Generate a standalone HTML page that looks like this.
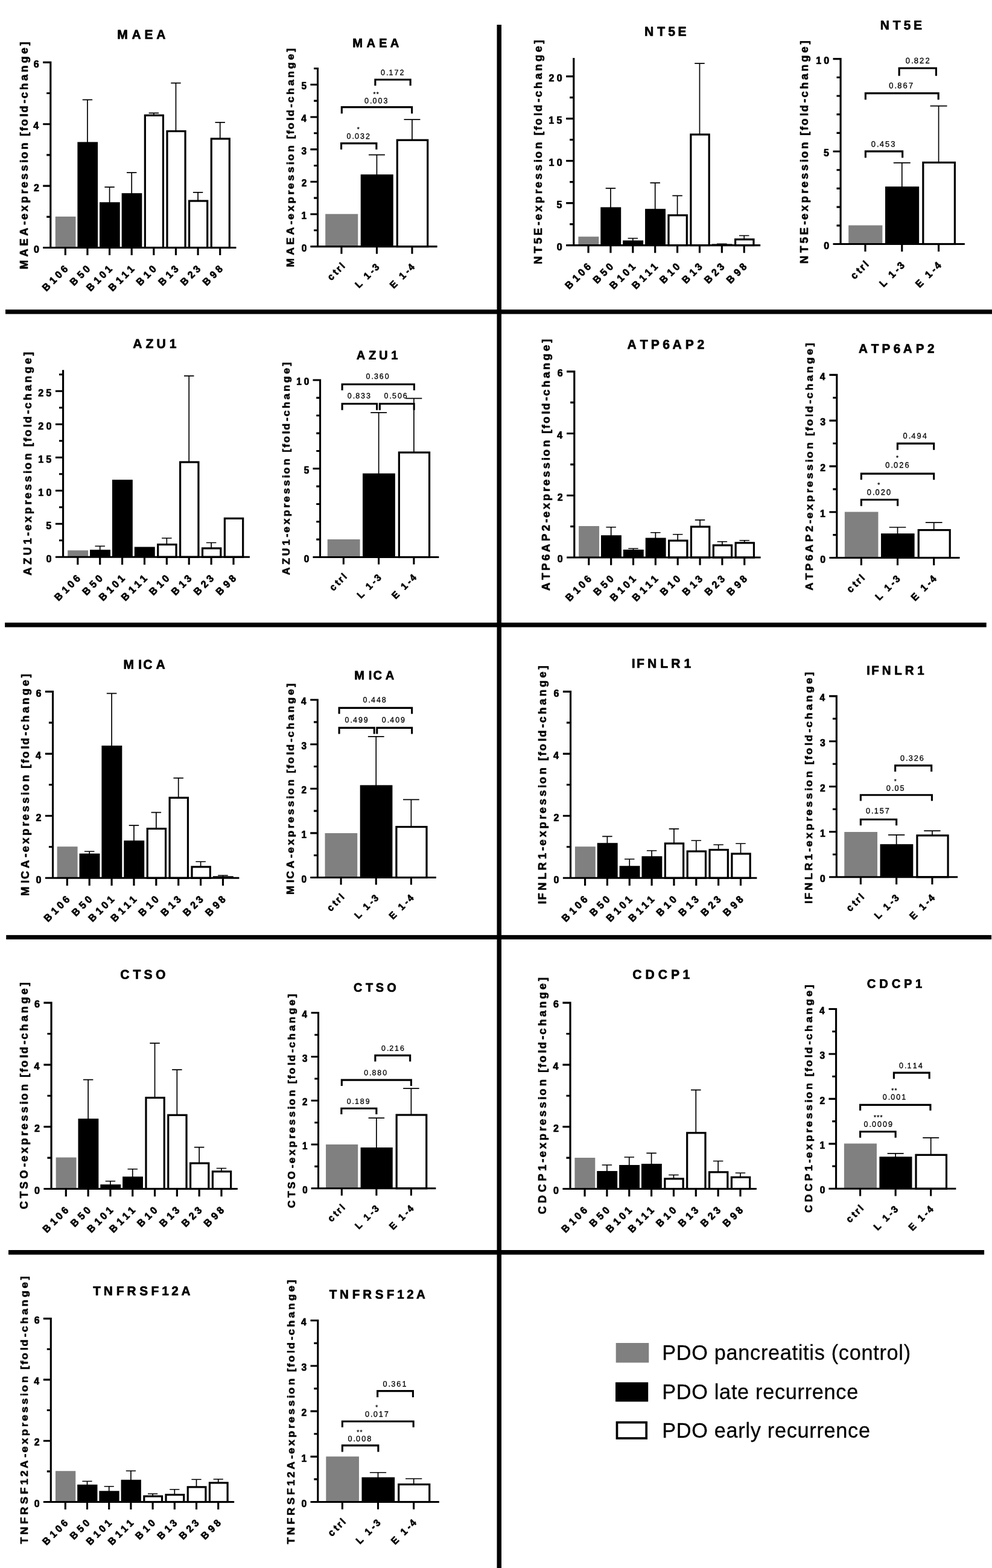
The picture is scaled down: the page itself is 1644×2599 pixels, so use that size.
<!DOCTYPE html>
<html lang="en">
<head>
<meta charset="utf-8">
<title>PDO expression fold-change</title>
<style>
html,body{margin:0;padding:0;background:#fff;}
body{width:1644px;height:2599px;overflow:hidden;}
svg{display:block;}
text{font-family:"Liberation Sans",Arial,Helvetica,sans-serif;fill:#000;stroke:#000;stroke-linejoin:round;font-kerning:none;}
.b{font-weight:700;stroke-width:0.7;}
.r{font-weight:400;stroke-width:0.3;}
</style>
</head>
<body>
<svg width="1644" height="2599" viewBox="0 0 1644 2599">
<rect width="1644" height="2599" fill="#fff"/>
<g fill="#000">
<rect x="823.5" y="41" width="7.5" height="2558"/>
<rect x="9" y="513.1" width="1635" height="7.4"/>
<rect x="8.1" y="1032" width="1626.6" height="7.6"/>
<rect x="10.2" y="1549.9" width="1632.9" height="7.2"/>
<rect x="14" y="2072" width="1617.1" height="7.6"/>
</g>
<g>
<rect x="91.76" y="358.97" width="33.68" height="51.53" fill="#808080"/>
<path d="M144.94 236.39V165.35M136.74 165.35H153.13" stroke="#000" stroke-width="1.7" fill="none"/>
<rect x="128.39" y="235.39" width="33.68" height="175.11" fill="#000"/>
<path d="M181.57 336.21V310.19M173.37 310.19H189.76" stroke="#000" stroke-width="1.7" fill="none"/>
<rect x="165.03" y="335.21" width="33.68" height="75.3" fill="#000"/>
<path d="M218.2 321.2V286.17M210 286.17H226.39" stroke="#000" stroke-width="1.7" fill="none"/>
<rect x="201.66" y="320.2" width="33.68" height="90.31" fill="#000"/>
<path d="M254.83 190.61V187.36M246.63 187.36H263.03" stroke="#000" stroke-width="1.7" fill="none"/>
<rect x="240.34" y="191.21" width="30.08" height="219.29" fill="#fff" stroke="#000" stroke-width="3.2"/>
<path d="M291.46 216.88V137.58M283.26 137.58H299.66" stroke="#000" stroke-width="1.7" fill="none"/>
<rect x="276.97" y="217.48" width="30.08" height="193.03" fill="#fff" stroke="#000" stroke-width="3.2"/>
<path d="M328.09 332.45V318.95M319.9 318.95H336.29" stroke="#000" stroke-width="1.7" fill="none"/>
<rect x="313.6" y="333.05" width="30.08" height="77.45" fill="#fff" stroke="#000" stroke-width="3.2"/>
<path d="M364.72 229.39V202.87M356.53 202.87H372.92" stroke="#000" stroke-width="1.7" fill="none"/>
<rect x="350.23" y="229.99" width="30.08" height="180.52" fill="#fff" stroke="#000" stroke-width="3.2"/>
<path d="M83.79 101.73V412.08M71.21 410.51H391.46M71.21 308.11H83.79M71.21 205.71H83.79M71.21 103.3H83.79M77.21 359.31H83.79M77.21 256.91H83.79M77.21 154.5H83.79M108.3 410.51V423.08M144.94 410.51V423.08M181.57 410.51V423.08M218.2 410.51V423.08M254.83 410.51V423.08M291.46 410.51V423.08M328.09 410.51V423.08M364.72 410.51V423.08" stroke="#000" stroke-width="3.15" fill="none"/>
<text class="b" font-size="16" transform="translate(64.51 418.91) matrix(1 .0005 0 1.05 0 0)" x="-8.59" dx="0">0</text>
<text class="b" font-size="16" transform="translate(64.51 316.51) matrix(1 .0005 0 1.05 0 0)" x="-8.61" dx="0">2</text>
<text class="b" font-size="16" transform="translate(64.51 214.11) matrix(1 .0005 0 1.05 0 0)" x="-9.16" dx="0">4</text>
<text class="b" font-size="16" transform="translate(64.51 111.7) matrix(1 .0005 0 1.05 0 0)" x="-8.67" dx="0">6</text>
<text class="b" font-size="16" transform="translate(116.55 443.96) rotate(-45) matrix(1 0 0 1.05 0 0)" x="-56.37" dx="0 5.47 4.22 4.22">B106</text>
<text class="b" font-size="16" transform="translate(153.19 443.96) rotate(-45) matrix(1 0 0 1.05 0 0)" x="-43.26" dx="0 5.47 4.22">B50</text>
<text class="b" font-size="16" transform="translate(189.82 443.96) rotate(-45) matrix(1 0 0 1.05 0 0)" x="-56.37" dx="0 5.47 4.22 4.22">B101</text>
<text class="b" font-size="16" transform="translate(226.45 443.96) rotate(-45) matrix(1 0 0 1.05 0 0)" x="-56.37" dx="0 5.47 4.22 4.22">B111</text>
<text class="b" font-size="16" transform="translate(263.08 443.96) rotate(-45) matrix(1 0 0 1.05 0 0)" x="-43.26" dx="0 5.47 4.22">B10</text>
<text class="b" font-size="16" transform="translate(299.71 443.96) rotate(-45) matrix(1 0 0 1.05 0 0)" x="-43.26" dx="0 5.47 4.22">B13</text>
<text class="b" font-size="16" transform="translate(336.34 443.96) rotate(-45) matrix(1 0 0 1.05 0 0)" x="-43.26" dx="0 5.47 4.22">B23</text>
<text class="b" font-size="16" transform="translate(372.97 443.96) rotate(-45) matrix(1 0 0 1.05 0 0)" x="-43.26" dx="0 5.47 4.22">B98</text>
<text class="b" font-size="21" transform="translate(234.64 64.43) matrix(1 .0005 0 1.02 0 0)" x="-40.53" dx="0 6.89 5.97 5.51">MAEA</text>
<text class="b" font-size="18.3" transform="translate(45.96 257.66) rotate(-90) matrix(1 0 0 0.96 0 0)" x="-188.67" dx="0 5.59 4.85 4.48 4.85 2.24 3.73 3.73 4.1 2.61 3.73 3.73 3.73 1.86 4.1 4.1 1.86 2.24 2.24 4.1 1.86 4.1 2.24 3.73 4.1 3.73 4.1 4.1 3.73">MAEA-expression [fold-change]</text>
</g>
<g>
<rect x="539.21" y="354.71" width="54.04" height="53.89" fill="#808080"/>
<path d="M624.45 290.16V256.64M610.99 256.64H637.91" stroke="#000" stroke-width="1.7" fill="none"/>
<rect x="597.72" y="289.16" width="54.04" height="119.43" fill="#000"/>
<path d="M682.96 231.63V198.1M669.5 198.1H696.42" stroke="#000" stroke-width="1.7" fill="none"/>
<rect x="658.29" y="232.23" width="50.44" height="176.37" fill="#fff" stroke="#000" stroke-width="3.2"/>
<path d="M526.51 111.9V410.14M514.38 408.59H724.62M514.38 354.93H526.51M514.38 301.27H526.51M514.38 247.6H526.51M514.38 193.94H526.51M514.38 140.28H526.51M520.15 381.76H526.51M520.15 328.1H526.51M520.15 274.44H526.51M520.15 220.77H526.51M520.15 167.11H526.51M520.15 113.45H526.51M565.93 408.59V420.71M624.45 408.59V420.71M682.96 408.59V420.71" stroke="#000" stroke-width="3.09" fill="none"/>
<text class="b" font-size="15.39" transform="translate(507.94 416.67) matrix(1 .0005 0 1.05 0 0)" x="-8.28" dx="0">0</text>
<text class="b" font-size="15.39" transform="translate(507.94 363.01) matrix(1 .0005 0 1.05 0 0)" x="-8.48" dx="0">1</text>
<text class="b" font-size="15.39" transform="translate(507.94 309.34) matrix(1 .0005 0 1.05 0 0)" x="-8.29" dx="0">2</text>
<text class="b" font-size="15.39" transform="translate(507.94 255.68) matrix(1 .0005 0 1.05 0 0)" x="-8.35" dx="0">3</text>
<text class="b" font-size="15.39" transform="translate(507.94 202.02) matrix(1 .0005 0 1.05 0 0)" x="-8.82" dx="0">4</text>
<text class="b" font-size="15.39" transform="translate(507.94 148.36) matrix(1 .0005 0 1.05 0 0)" x="-8.48" dx="0">5</text>
<text class="b" font-size="15.39" transform="translate(573.87 440.76) rotate(-45) matrix(1 0 0 1.05 0 0)" x="-35.28" dx="0 4.05 2.43 2.84">ctrl</text>
<text class="b" font-size="15.39" transform="translate(632.38 440.76) rotate(-45) matrix(1 0 0 1.05 0 0)" x="-52.92" dx="0 4.45 2.03 4.05 2.43">L 1-3</text>
<text class="b" font-size="15.39" transform="translate(690.89 440.76) rotate(-45) matrix(1 0 0 1.05 0 0)" x="-54.19" dx="0 4.86 2.03 4.05 2.43">E 1-4</text>
<text class="b" font-size="20.19" transform="translate(623.12 78.18) matrix(1 .0005 0 1.02 0 0)" x="-38.97" dx="0 6.62 5.74 5.3">MAEA</text>
<text class="b" font-size="17.6" transform="translate(487.05 261.4) rotate(-90) matrix(1 0 0 0.96 0 0)" x="-181.42" dx="0 5.38 4.66 4.3 4.66 2.15 3.59 3.59 3.94 2.51 3.59 3.59 3.59 1.79 3.94 3.94 1.79 2.15 2.15 3.94 1.79 3.94 2.15 3.59 3.94 3.59 3.94 3.94 3.59">MAEA-expression [fold-change]</text>
<path d="M565.58 247.74V237.63H623.87V247.74" stroke="#000" stroke-width="3.1" fill="none"/>
<text class="r" font-size="12.5" transform="translate(593.6 230.12) matrix(1 .0005 0 1.03 0 0)" x="-19.1" dx="0 2.02 1.01 2.02 2.02">0.032</text>
<text class="r" font-size="10.1" transform="translate(593.6 217.61) matrix(1 .0005 0 1 0 0)" x="-1.97" dx="0">*</text>
<path d="M566.33 188.2V177.59H682.66V188.2" stroke="#000" stroke-width="3.1" fill="none"/>
<text class="r" font-size="12.5" transform="translate(623.12 171.34) matrix(1 .0005 0 1.03 0 0)" x="-19.14" dx="0 2.02 1.01 2.02 2.02">0.003</text>
<text class="r" font-size="10.1" transform="translate(623.12 159.33) matrix(1 .0005 0 1 0 0)" x="-4.58" dx="0 1.3">**</text>
<path d="M621.87 141.92V132.06H680.16V141.92" stroke="#000" stroke-width="3.1" fill="none"/>
<text class="r" font-size="12.5" transform="translate(650.14 124.56) matrix(1 .0005 0 1.03 0 0)" x="-19.1" dx="0 2.02 1.01 2.02 2.02">0.172</text>
</g>
<g>
<rect x="958.41" y="392.24" width="33.91" height="14.31" fill="#808080"/>
<path d="M1011.95 344.46V312.19M1003.7 312.19H1020.2" stroke="#000" stroke-width="1.7" fill="none"/>
<rect x="995.29" y="343.46" width="33.91" height="63.09" fill="#000"/>
<path d="M1048.83 399.5V395M1040.58 395H1057.08" stroke="#000" stroke-width="1.7" fill="none"/>
<rect x="1032.18" y="398.5" width="33.91" height="8.06" fill="#000"/>
<path d="M1085.71 347.21V303.19M1077.46 303.19H1093.96" stroke="#000" stroke-width="1.7" fill="none"/>
<rect x="1069.06" y="346.21" width="33.91" height="60.34" fill="#000"/>
<path d="M1122.59 356.22V324.45M1114.34 324.45H1130.85" stroke="#000" stroke-width="1.7" fill="none"/>
<rect x="1107.99" y="356.82" width="30.31" height="49.73" fill="#fff" stroke="#000" stroke-width="3.2"/>
<path d="M1159.48 222.38V105.06M1151.22 105.06H1167.73" stroke="#000" stroke-width="1.7" fill="none"/>
<rect x="1144.87" y="222.98" width="30.31" height="183.57" fill="#fff" stroke="#000" stroke-width="3.2"/>
<path d="M1196.36 405.38V404.25M1188.11 404.25H1204.61" stroke="#000" stroke-width="1.7" fill="none"/>
<rect x="1179.7" y="404.38" width="33.91" height="2.18" fill="#000"/>
<path d="M1233.24 396.25V390.49M1224.99 390.49H1241.49" stroke="#000" stroke-width="1.7" fill="none"/>
<rect x="1218.63" y="396.85" width="30.31" height="9.71" fill="#fff" stroke="#000" stroke-width="3.2"/>
<path d="M950.8 96.12V408.13M938.16 406.55H1260.16M938.16 336.55H950.8M938.16 266.55H950.8M938.16 196.55H950.8M938.16 126.55H950.8M944.19 371.55H950.8M944.19 301.55H950.8M944.19 231.55H950.8M944.19 161.55H950.8M975.07 406.55V419.2M1011.95 406.55V419.2M1048.83 406.55V419.2M1085.71 406.55V419.2M1122.59 406.55V419.2M1159.48 406.55V419.2M1196.36 406.55V419.2M1233.24 406.55V419.2" stroke="#000" stroke-width="3.16" fill="none"/>
<text class="b" font-size="16.1" transform="translate(931.41 415.01) matrix(1 .0005 0 1.05 0 0)" x="-8.64" dx="0">0</text>
<text class="b" font-size="16.1" transform="translate(931.41 345.01) matrix(1 .0005 0 1.05 0 0)" x="-8.85" dx="0">5</text>
<text class="b" font-size="16.1" transform="translate(931.41 275.01) matrix(1 .0005 0 1.05 0 0)" x="-21.84" dx="0 4.24">10</text>
<text class="b" font-size="16.1" transform="translate(931.41 205.01) matrix(1 .0005 0 1.05 0 0)" x="-22.05" dx="0 4.24">15</text>
<text class="b" font-size="16.1" transform="translate(931.41 135.01) matrix(1 .0005 0 1.05 0 0)" x="-21.84" dx="0 4.24">20</text>
<text class="b" font-size="16.1" transform="translate(983.37 440.21) rotate(-45) matrix(1 0 0 1.05 0 0)" x="-56.72" dx="0 5.51 4.24 4.24">B106</text>
<text class="b" font-size="16.1" transform="translate(1020.25 440.21) rotate(-45) matrix(1 0 0 1.05 0 0)" x="-43.52" dx="0 5.51 4.24">B50</text>
<text class="b" font-size="16.1" transform="translate(1057.13 440.21) rotate(-45) matrix(1 0 0 1.05 0 0)" x="-56.72" dx="0 5.51 4.24 4.24">B101</text>
<text class="b" font-size="16.1" transform="translate(1094.01 440.21) rotate(-45) matrix(1 0 0 1.05 0 0)" x="-56.72" dx="0 5.51 4.24 4.24">B111</text>
<text class="b" font-size="16.1" transform="translate(1130.89 440.21) rotate(-45) matrix(1 0 0 1.05 0 0)" x="-43.52" dx="0 5.51 4.24">B10</text>
<text class="b" font-size="16.1" transform="translate(1167.78 440.21) rotate(-45) matrix(1 0 0 1.05 0 0)" x="-43.52" dx="0 5.51 4.24">B13</text>
<text class="b" font-size="16.1" transform="translate(1204.66 440.21) rotate(-45) matrix(1 0 0 1.05 0 0)" x="-43.52" dx="0 5.51 4.24">B23</text>
<text class="b" font-size="16.1" transform="translate(1241.54 440.21) rotate(-45) matrix(1 0 0 1.05 0 0)" x="-43.52" dx="0 5.51 4.24">B98</text>
<text class="b" font-size="21.13" transform="translate(1103.15 59.43) matrix(1 .0005 0 1.02 0 0)" x="-35.15" dx="0 6.01 5.08 4.63">NT5E</text>
<text class="b" font-size="18.41" transform="translate(898.49 252.03) rotate(-90) matrix(1 0 0 0.96 0 0)" x="-186.07" dx="0 4.99 4.22 3.84 4.61 2.3 3.84 3.84 4.22 2.69 3.84 3.84 3.84 1.92 4.22 4.22 1.92 2.3 2.3 4.22 1.92 4.22 2.3 3.84 4.22 3.84 4.22 4.22 3.84">NT5E-expression [fold-change]</text>
</g>
<g>
<rect x="1406.21" y="373.49" width="56.15" height="31.02" fill="#808080"/>
<path d="M1494.78 310.2V269.92M1480.79 269.92H1508.76" stroke="#000" stroke-width="1.7" fill="none"/>
<rect x="1467" y="309.2" width="56.15" height="95.31" fill="#000"/>
<path d="M1555.57 268.79V175.61M1541.58 175.61H1569.55" stroke="#000" stroke-width="1.7" fill="none"/>
<rect x="1529.84" y="269.39" width="52.55" height="135.11" fill="#fff" stroke="#000" stroke-width="3.2"/>
<path d="M1393.09 95.98V406.08M1380.52 404.51H1598.85M1380.52 251.03H1393.09M1380.52 97.56H1393.09M1386.51 373.81H1393.09M1386.51 343.12H1393.09M1386.51 312.42H1393.09M1386.51 281.73H1393.09M1386.51 220.34H1393.09M1386.51 189.64H1393.09M1386.51 158.95H1393.09M1386.51 128.25H1393.09M1433.99 404.51V417.08M1494.78 404.51V417.08M1555.57 404.51V417.08" stroke="#000" stroke-width="3.15" fill="none"/>
<text class="b" font-size="15.99" transform="translate(1373.82 412.9) matrix(1 .0005 0 1.05 0 0)" x="-8.59" dx="0">0</text>
<text class="b" font-size="15.99" transform="translate(1373.82 259.43) matrix(1 .0005 0 1.05 0 0)" x="-8.8" dx="0">5</text>
<text class="b" font-size="15.99" transform="translate(1373.82 105.95) matrix(1 .0005 0 1.05 0 0)" x="-21.7" dx="0 4.21">10</text>
<text class="b" font-size="15.99" transform="translate(1442.23 437.94) rotate(-45) matrix(1 0 0 1.05 0 0)" x="-36.68" dx="0 4.21 2.52 2.95">ctrl</text>
<text class="b" font-size="15.99" transform="translate(1503.02 437.94) rotate(-45) matrix(1 0 0 1.05 0 0)" x="-55.01" dx="0 4.63 2.1 4.21 2.52">L 1-3</text>
<text class="b" font-size="15.99" transform="translate(1563.81 437.94) rotate(-45) matrix(1 0 0 1.05 0 0)" x="-56.33" dx="0 5.05 2.1 4.21 2.52">E 1-4</text>
<text class="b" font-size="20.99" transform="translate(1493.65 48.93) matrix(1 .0005 0 1.02 0 0)" x="-34.92" dx="0 5.97 5.05 4.6">NT5E</text>
<text class="b" font-size="18.29" transform="translate(1338.99 252.03) rotate(-90) matrix(1 0 0 0.96 0 0)" x="-184.85" dx="0 4.96 4.19 3.82 4.58 2.29 3.82 3.82 4.19 2.67 3.82 3.82 3.82 1.91 4.19 4.19 1.91 2.29 2.29 4.19 1.91 4.19 2.29 3.82 4.19 3.82 4.19 4.19 3.82">NT5E-expression [fold-change]</text>
<path d="M1434.36 261.51V250.91H1495.65V261.51" stroke="#000" stroke-width="3.1" fill="none"/>
<text class="r" font-size="12.99" transform="translate(1463.63 243.15) matrix(1 .0005 0 1.03 0 0)" x="-19.89" dx="0 2.1 1.05 2.1 2.1">0.453</text>
<path d="M1434.36 165.2V154.59H1555.19V165.2" stroke="#000" stroke-width="3.1" fill="none"/>
<text class="r" font-size="12.99" transform="translate(1493.15 146.34) matrix(1 .0005 0 1.03 0 0)" x="-19.85" dx="0 2.1 1.05 2.1 2.1">0.867</text>
<path d="M1490.15 125.68V113.07H1551.44V125.68" stroke="#000" stroke-width="3.1" fill="none"/>
<text class="r" font-size="12.99" transform="translate(1520.67 105.06) matrix(1 .0005 0 1.03 0 0)" x="-19.85" dx="0 2.1 1.05 2.1 2.1">0.822</text>
</g>
<g>
<rect x="112.16" y="912.25" width="33.91" height="11.01" fill="#808080"/>
<path d="M165.7 912.25V905.25M157.45 905.25H173.95" stroke="#000" stroke-width="1.7" fill="none"/>
<rect x="149.04" y="911.25" width="33.91" height="12.01" fill="#000"/>
<rect x="185.92" y="795.17" width="33.91" height="128.08" fill="#000"/>
<rect x="222.81" y="906.5" width="33.91" height="16.76" fill="#000"/>
<path d="M276.34 901.99V891.99M268.09 891.99H284.6" stroke="#000" stroke-width="1.7" fill="none"/>
<rect x="261.74" y="902.59" width="30.31" height="20.66" fill="#fff" stroke="#000" stroke-width="3.2"/>
<path d="M313.22 765.4V623.06M304.97 623.06H321.48" stroke="#000" stroke-width="1.7" fill="none"/>
<rect x="298.62" y="766" width="30.31" height="157.25" fill="#fff" stroke="#000" stroke-width="3.2"/>
<path d="M350.11 908.25V899.49M341.85 899.49H358.36" stroke="#000" stroke-width="1.7" fill="none"/>
<rect x="335.5" y="908.85" width="30.31" height="14.41" fill="#fff" stroke="#000" stroke-width="3.2"/>
<rect x="372.38" y="859.32" width="30.31" height="63.94" fill="#fff" stroke="#000" stroke-width="3.2"/>
<path d="M104.55 613.28V924.84M91.91 923.26H413.91M91.91 868.26H104.55M91.91 813.26H104.55M91.91 758.26H104.55M91.91 703.26H104.55M91.91 648.26H104.55M97.95 895.76H104.55M97.95 840.76H104.55M97.95 785.76H104.55M97.95 730.76H104.55M97.95 675.76H104.55M97.95 620.76H104.55M128.82 923.26V935.9M165.7 923.26V935.9M202.58 923.26V935.9M239.46 923.26V935.9M276.34 923.26V935.9M313.22 923.26V935.9M350.11 923.26V935.9M386.99 923.26V935.9" stroke="#000" stroke-width="3.16" fill="none"/>
<text class="b" font-size="16.09" transform="translate(85.18 931.7) matrix(1 .0005 0 1.05 0 0)" x="-8.64" dx="0">0</text>
<text class="b" font-size="16.09" transform="translate(85.18 876.7) matrix(1 .0005 0 1.05 0 0)" x="-8.85" dx="0">5</text>
<text class="b" font-size="16.09" transform="translate(85.18 821.7) matrix(1 .0005 0 1.05 0 0)" x="-21.82" dx="0 4.24">10</text>
<text class="b" font-size="16.09" transform="translate(85.18 766.7) matrix(1 .0005 0 1.05 0 0)" x="-22.03" dx="0 4.24">15</text>
<text class="b" font-size="16.09" transform="translate(85.18 711.7) matrix(1 .0005 0 1.05 0 0)" x="-21.82" dx="0 4.24">20</text>
<text class="b" font-size="16.09" transform="translate(85.18 656.7) matrix(1 .0005 0 1.05 0 0)" x="-22.03" dx="0 4.24">25</text>
<text class="b" font-size="16.09" transform="translate(137.11 956.89) rotate(-45) matrix(1 0 0 1.05 0 0)" x="-56.67" dx="0 5.5 4.24 4.24">B106</text>
<text class="b" font-size="16.09" transform="translate(173.99 956.89) rotate(-45) matrix(1 0 0 1.05 0 0)" x="-43.49" dx="0 5.5 4.24">B50</text>
<text class="b" font-size="16.09" transform="translate(210.88 956.89) rotate(-45) matrix(1 0 0 1.05 0 0)" x="-56.67" dx="0 5.5 4.24 4.24">B101</text>
<text class="b" font-size="16.09" transform="translate(247.76 956.89) rotate(-45) matrix(1 0 0 1.05 0 0)" x="-56.67" dx="0 5.5 4.24 4.24">B111</text>
<text class="b" font-size="16.09" transform="translate(284.64 956.89) rotate(-45) matrix(1 0 0 1.05 0 0)" x="-43.49" dx="0 5.5 4.24">B10</text>
<text class="b" font-size="16.09" transform="translate(321.52 956.89) rotate(-45) matrix(1 0 0 1.05 0 0)" x="-43.49" dx="0 5.5 4.24">B13</text>
<text class="b" font-size="16.09" transform="translate(358.4 956.89) rotate(-45) matrix(1 0 0 1.05 0 0)" x="-43.49" dx="0 5.5 4.24">B23</text>
<text class="b" font-size="16.09" transform="translate(395.28 956.89) rotate(-45) matrix(1 0 0 1.05 0 0)" x="-43.49" dx="0 5.5 4.24">B98</text>
<text class="b" font-size="21.11" transform="translate(256.4 576.93) matrix(1 .0005 0 1.02 0 0)" x="-36.08" dx="0 6 5.08 6">AZU1</text>
<text class="b" font-size="18.4" transform="translate(52.24 768.91) rotate(-90) matrix(1 0 0 0.96 0 0)" x="-184.87" dx="0 4.85 4.1 4.85 3.73 2.24 3.73 3.73 4.1 2.61 3.73 3.73 3.73 1.87 4.1 4.1 1.87 2.24 2.24 4.1 1.87 4.1 2.24 3.73 4.1 3.73 4.1 4.1 3.73">AZU1-expression [fold-change]</text>
</g>
<g>
<rect x="542.72" y="893.99" width="53.84" height="29.52" fill="#808080"/>
<path d="M627.62 785.67V683.85M614.21 683.85H641.03" stroke="#000" stroke-width="1.7" fill="none"/>
<rect x="601.01" y="784.67" width="53.84" height="138.84" fill="#000"/>
<path d="M685.91 749.39V660.34M672.5 660.34H699.32" stroke="#000" stroke-width="1.7" fill="none"/>
<rect x="661.34" y="749.99" width="50.24" height="173.51" fill="#fff" stroke="#000" stroke-width="3.2"/>
<path d="M530.56 628.52V925.05M518.49 923.51H727.41M518.49 776.79H530.56M518.49 630.07H530.56M524.23 894.16H530.56M524.23 864.82H530.56M524.23 835.48H530.56M524.23 806.13H530.56M524.23 747.44H530.56M524.23 718.1H530.56M524.23 688.75H530.56M524.23 659.41H530.56M569.33 923.51V935.58M627.62 923.51V935.58M685.91 923.51V935.58" stroke="#000" stroke-width="3.08" fill="none"/>
<text class="b" font-size="15.31" transform="translate(512.08 931.55) matrix(1 .0005 0 1.05 0 0)" x="-8.24" dx="0">0</text>
<text class="b" font-size="15.31" transform="translate(512.08 784.83) matrix(1 .0005 0 1.05 0 0)" x="-8.44" dx="0">5</text>
<text class="b" font-size="15.31" transform="translate(512.08 638.1) matrix(1 .0005 0 1.05 0 0)" x="-20.79" dx="0 4.03">10</text>
<text class="b" font-size="15.31" transform="translate(577.23 955.52) rotate(-45) matrix(1 0 0 1.05 0 0)" x="-35.11" dx="0 4.03 2.42 2.82">ctrl</text>
<text class="b" font-size="15.31" transform="translate(635.52 955.52) rotate(-45) matrix(1 0 0 1.05 0 0)" x="-52.67" dx="0 4.43 2.02 4.03 2.42">L 1-3</text>
<text class="b" font-size="15.31" transform="translate(693.81 955.52) rotate(-45) matrix(1 0 0 1.05 0 0)" x="-53.93" dx="0 4.84 2.02 4.03 2.42">E 1-4</text>
<text class="b" font-size="20.1" transform="translate(625.12 595.69) matrix(1 .0005 0 1.02 0 0)" x="-34.34" dx="0 5.71 4.83 5.71">AZU1</text>
<text class="b" font-size="17.51" transform="translate(479.52 777.04) rotate(-90) matrix(1 0 0 0.96 0 0)" x="-175.97" dx="0 4.62 3.9 4.62 3.55 2.13 3.55 3.55 3.9 2.49 3.55 3.55 3.55 1.78 3.9 3.9 1.78 2.13 2.13 3.9 1.78 3.9 2.13 3.55 3.9 3.55 3.9 3.9 3.55">AZU1-expression [fold-change]</text>
<path d="M567.08 646.93V637.07H686.41V646.93" stroke="#000" stroke-width="3.1" fill="none"/>
<text class="r" font-size="12.44" transform="translate(625.62 628.06) matrix(1 .0005 0 1.03 0 0)" x="-19.08" dx="0 2.01 1 2.01 2.01">0.360</text>
<path d="M567.08 679.7V669.22H624.62V679.7" stroke="#000" stroke-width="3.1" fill="none"/>
<text class="r" font-size="12.44" transform="translate(594.85 660.21) matrix(1 .0005 0 1.03 0 0)" x="-19.05" dx="0 2.01 1 2.01 2.01">0.833</text>
<path d="M629.37 679.7V669.22H686.16V679.7" stroke="#000" stroke-width="3.1" fill="none"/>
<text class="r" font-size="12.44" transform="translate(655.64 660.21) matrix(1 .0005 0 1.03 0 0)" x="-19.05" dx="0 2.01 1 2.01 2.01">0.506</text>
</g>
<g>
<rect x="959.18" y="871.97" width="33.88" height="52.03" fill="#808080"/>
<path d="M1012.67 888.23V873.73M1004.42 873.73H1020.91" stroke="#000" stroke-width="1.7" fill="none"/>
<rect x="996.03" y="887.23" width="33.88" height="36.77" fill="#000"/>
<path d="M1049.51 912V909.25M1041.27 909.25H1057.75" stroke="#000" stroke-width="1.7" fill="none"/>
<rect x="1032.87" y="911" width="33.88" height="13.01" fill="#000"/>
<path d="M1086.36 892.49V882.73M1078.11 882.73H1094.6" stroke="#000" stroke-width="1.7" fill="none"/>
<rect x="1069.72" y="891.49" width="33.88" height="32.52" fill="#000"/>
<path d="M1123.2 895.49V885.73M1114.96 885.73H1131.45" stroke="#000" stroke-width="1.7" fill="none"/>
<rect x="1108.61" y="896.09" width="30.28" height="27.92" fill="#fff" stroke="#000" stroke-width="3.2"/>
<path d="M1160.05 872.47V861.97M1151.8 861.97H1168.29" stroke="#000" stroke-width="1.7" fill="none"/>
<rect x="1145.46" y="873.07" width="30.28" height="50.93" fill="#fff" stroke="#000" stroke-width="3.2"/>
<path d="M1196.89 903.24V897.74M1188.65 897.74H1205.14" stroke="#000" stroke-width="1.7" fill="none"/>
<rect x="1182.3" y="903.84" width="30.28" height="20.16" fill="#fff" stroke="#000" stroke-width="3.2"/>
<path d="M1233.74 899.24V895.74M1225.49 895.74H1241.98" stroke="#000" stroke-width="1.7" fill="none"/>
<rect x="1219.15" y="899.84" width="30.28" height="24.17" fill="#fff" stroke="#000" stroke-width="3.2"/>
<path d="M951.8 614.23V925.59M939.17 924.01H1260.64M939.17 821.27H951.8M939.17 718.54H951.8M939.17 615.81H951.8M945.2 872.64H951.8M945.2 769.91H951.8M945.2 667.17H951.8M975.82 924.01V936.64M1012.67 924.01V936.64M1049.51 924.01V936.64M1086.36 924.01V936.64M1123.2 924.01V936.64M1160.05 924.01V936.64M1196.89 924.01V936.64M1233.74 924.01V936.64" stroke="#000" stroke-width="3.16" fill="none"/>
<text class="b" font-size="16.07" transform="translate(932.44 932.45) matrix(1 .0005 0 1.05 0 0)" x="-8.63" dx="0">0</text>
<text class="b" font-size="16.07" transform="translate(932.44 829.71) matrix(1 .0005 0 1.05 0 0)" x="-8.65" dx="0">2</text>
<text class="b" font-size="16.07" transform="translate(932.44 726.98) matrix(1 .0005 0 1.05 0 0)" x="-9.2" dx="0">4</text>
<text class="b" font-size="16.07" transform="translate(932.44 624.24) matrix(1 .0005 0 1.05 0 0)" x="-8.71" dx="0">6</text>
<text class="b" font-size="16.07" transform="translate(984.11 957.61) rotate(-45) matrix(1 0 0 1.05 0 0)" x="-56.63" dx="0 5.5 4.23 4.23">B106</text>
<text class="b" font-size="16.07" transform="translate(1020.95 957.61) rotate(-45) matrix(1 0 0 1.05 0 0)" x="-43.45" dx="0 5.5 4.23">B50</text>
<text class="b" font-size="16.07" transform="translate(1057.8 957.61) rotate(-45) matrix(1 0 0 1.05 0 0)" x="-56.63" dx="0 5.5 4.23 4.23">B101</text>
<text class="b" font-size="16.07" transform="translate(1094.64 957.61) rotate(-45) matrix(1 0 0 1.05 0 0)" x="-56.63" dx="0 5.5 4.23 4.23">B111</text>
<text class="b" font-size="16.07" transform="translate(1131.49 957.61) rotate(-45) matrix(1 0 0 1.05 0 0)" x="-43.45" dx="0 5.5 4.23">B10</text>
<text class="b" font-size="16.07" transform="translate(1168.34 957.61) rotate(-45) matrix(1 0 0 1.05 0 0)" x="-43.45" dx="0 5.5 4.23">B13</text>
<text class="b" font-size="16.07" transform="translate(1205.18 957.61) rotate(-45) matrix(1 0 0 1.05 0 0)" x="-43.45" dx="0 5.5 4.23">B23</text>
<text class="b" font-size="16.07" transform="translate(1242.03 957.61) rotate(-45) matrix(1 0 0 1.05 0 0)" x="-43.45" dx="0 5.5 4.23">B98</text>
<text class="b" font-size="21.1" transform="translate(1103.15 578.18) matrix(1 .0005 0 1.02 0 0)" x="-63.7" dx="0 6 5.07 5.54 4.62 6 5.54">ATP6AP2</text>
<text class="b" font-size="18.38" transform="translate(911 770.78) rotate(-90) matrix(1 0 0 0.96 0 0)" x="-208.27" dx="0 4.83 4.09 4.46 3.72 4.83 4.46 3.72 2.23 3.72 3.72 4.09 2.6 3.72 3.72 3.72 1.86 4.09 4.09 1.86 2.23 2.23 4.09 1.86 4.09 2.23 3.72 4.09 3.72 4.09 4.09 3.72">ATP6AP2-expression [fold-change]</text>
</g>
<g>
<rect x="1399.87" y="848.46" width="55.57" height="76.05" fill="#808080"/>
<path d="M1487.52 885.23V873.98M1473.68 873.98H1501.36" stroke="#000" stroke-width="1.7" fill="none"/>
<rect x="1460.04" y="884.23" width="55.57" height="40.28" fill="#000"/>
<path d="M1547.69 877.98V866.22M1533.85 866.22H1561.53" stroke="#000" stroke-width="1.7" fill="none"/>
<rect x="1522.25" y="878.58" width="51.97" height="45.93" fill="#fff" stroke="#000" stroke-width="3.2"/>
<path d="M1386.83 619.74V926.07M1374.39 924.51H1590.52M1374.39 848.71H1386.83M1374.39 772.91H1386.83M1374.39 697.11H1386.83M1374.39 621.31H1386.83M1380.32 886.61H1386.83M1380.32 810.81H1386.83M1380.32 735.01H1386.83M1380.32 659.21H1386.83M1427.36 924.51V936.95M1487.52 924.51V936.95M1547.69 924.51V936.95" stroke="#000" stroke-width="3.13" fill="none"/>
<text class="b" font-size="15.81" transform="translate(1367.77 932.81) matrix(1 .0005 0 1.05 0 0)" x="-8.5" dx="0">0</text>
<text class="b" font-size="15.81" transform="translate(1367.77 857.01) matrix(1 .0005 0 1.05 0 0)" x="-8.7" dx="0">1</text>
<text class="b" font-size="15.81" transform="translate(1367.77 781.21) matrix(1 .0005 0 1.05 0 0)" x="-8.51" dx="0">2</text>
<text class="b" font-size="15.81" transform="translate(1367.77 705.41) matrix(1 .0005 0 1.05 0 0)" x="-8.57" dx="0">3</text>
<text class="b" font-size="15.81" transform="translate(1367.77 629.61) matrix(1 .0005 0 1.05 0 0)" x="-9.06" dx="0">4</text>
<text class="b" font-size="15.81" transform="translate(1435.51 957.57) rotate(-45) matrix(1 0 0 1.05 0 0)" x="-36.26" dx="0 4.17 2.49 2.92">ctrl</text>
<text class="b" font-size="15.81" transform="translate(1495.68 957.57) rotate(-45) matrix(1 0 0 1.05 0 0)" x="-54.39" dx="0 4.58 2.08 4.17 2.49">L 1-3</text>
<text class="b" font-size="15.81" transform="translate(1555.84 957.57) rotate(-45) matrix(1 0 0 1.05 0 0)" x="-55.7" dx="0 5 2.08 4.17 2.49">E 1-4</text>
<text class="b" font-size="20.75" transform="translate(1485.65 584.94) matrix(1 .0005 0 1.02 0 0)" x="-62.67" dx="0 5.9 4.99 5.45 4.54 5.9 5.45">ATP6AP2</text>
<text class="b" font-size="18.09" transform="translate(1347.2 773.91) rotate(-90) matrix(1 0 0 0.96 0 0)" x="-204.88" dx="0 4.75 4.02 4.39 3.66 4.75 4.39 3.66 2.19 3.66 3.66 4.02 2.56 3.66 3.66 3.66 1.83 4.02 4.02 1.83 2.19 2.19 4.02 1.83 4.02 2.19 3.66 4.02 3.66 4.02 4.02 3.66">ATP6AP2-expression [fold-change]</text>
<path d="M1427.36 838.8V828.2H1487.65V838.8" stroke="#000" stroke-width="3.1" fill="none"/>
<text class="r" font-size="12.85" transform="translate(1456.38 820.19) matrix(1 .0005 0 1.03 0 0)" x="-19.7" dx="0 2.07 1.04 2.07 2.07">0.020</text>
<text class="r" font-size="10.38" transform="translate(1456.38 807.07) matrix(1 .0005 0 1 0 0)" x="-2.02" dx="0">*</text>
<path d="M1427.36 795.27V785.17H1547.69V795.27" stroke="#000" stroke-width="3.1" fill="none"/>
<text class="r" font-size="12.85" transform="translate(1486.9 775.16) matrix(1 .0005 0 1.03 0 0)" x="-19.67" dx="0 2.07 1.04 2.07 2.07">0.026</text>
<text class="r" font-size="10.38" transform="translate(1486.9 762.29) matrix(1 .0005 0 1 0 0)" x="-2.02" dx="0">*</text>
<path d="M1487.4 745.74V735.13H1547.69V745.74" stroke="#000" stroke-width="3.1" fill="none"/>
<text class="r" font-size="12.85" transform="translate(1516.17 726.88) matrix(1 .0005 0 1.03 0 0)" x="-19.76" dx="0 2.07 1.04 2.07 2.07">0.494</text>
</g>
<g>
<rect x="94.65" y="1403.23" width="33.91" height="52.03" fill="#808080"/>
<path d="M148.19 1415.74V1411.24M139.94 1411.24H156.44" stroke="#000" stroke-width="1.7" fill="none"/>
<rect x="131.53" y="1414.74" width="33.91" height="40.53" fill="#000"/>
<path d="M185.07 1236.87V1149.32M176.82 1149.32H193.32" stroke="#000" stroke-width="1.7" fill="none"/>
<rect x="168.41" y="1235.87" width="33.91" height="219.39" fill="#000"/>
<path d="M221.95 1394.23V1368.21M213.7 1368.21H230.2" stroke="#000" stroke-width="1.7" fill="none"/>
<rect x="205.29" y="1393.23" width="33.91" height="62.04" fill="#000"/>
<path d="M258.83 1372.96V1346.69M250.58 1346.69H267.08" stroke="#000" stroke-width="1.7" fill="none"/>
<rect x="244.23" y="1373.56" width="30.31" height="81.7" fill="#fff" stroke="#000" stroke-width="3.2"/>
<path d="M295.71 1321.68V1289.66M287.46 1289.66H303.97" stroke="#000" stroke-width="1.7" fill="none"/>
<rect x="281.11" y="1322.28" width="30.31" height="132.99" fill="#fff" stroke="#000" stroke-width="3.2"/>
<path d="M332.59 1436.25V1428.25M324.34 1428.25H340.85" stroke="#000" stroke-width="1.7" fill="none"/>
<rect x="317.99" y="1436.85" width="30.31" height="18.41" fill="#fff" stroke="#000" stroke-width="3.2"/>
<path d="M369.48 1453.26V1451.01M361.22 1451.01H377.73" stroke="#000" stroke-width="1.7" fill="none"/>
<rect x="352.82" y="1452.26" width="33.91" height="3" fill="#000"/>
<path d="M87.54 1144.73V1456.85M74.89 1455.27H396.4M74.89 1352.28H87.54M74.89 1249.3H87.54M74.89 1146.31H87.54M80.93 1403.77H87.54M80.93 1300.79H87.54M80.93 1197.81H87.54M111.31 1455.27V1467.91M148.19 1455.27V1467.91M185.07 1455.27V1467.91M221.95 1455.27V1467.91M258.83 1455.27V1467.91M295.71 1455.27V1467.91M332.59 1455.27V1467.91M369.48 1455.27V1467.91" stroke="#000" stroke-width="3.16" fill="none"/>
<text class="b" font-size="16.1" transform="translate(68.15 1463.72) matrix(1 .0005 0 1.05 0 0)" x="-8.64" dx="0">0</text>
<text class="b" font-size="16.1" transform="translate(68.15 1360.73) matrix(1 .0005 0 1.05 0 0)" x="-8.66" dx="0">2</text>
<text class="b" font-size="16.1" transform="translate(68.15 1257.75) matrix(1 .0005 0 1.05 0 0)" x="-9.22" dx="0">4</text>
<text class="b" font-size="16.1" transform="translate(68.15 1154.77) matrix(1 .0005 0 1.05 0 0)" x="-8.72" dx="0">6</text>
<text class="b" font-size="16.1" transform="translate(119.61 1488.93) rotate(-45) matrix(1 0 0 1.05 0 0)" x="-56.73" dx="0 5.51 4.24 4.24">B106</text>
<text class="b" font-size="16.1" transform="translate(156.49 1488.93) rotate(-45) matrix(1 0 0 1.05 0 0)" x="-43.53" dx="0 5.51 4.24">B50</text>
<text class="b" font-size="16.1" transform="translate(193.37 1488.93) rotate(-45) matrix(1 0 0 1.05 0 0)" x="-56.73" dx="0 5.51 4.24 4.24">B101</text>
<text class="b" font-size="16.1" transform="translate(230.25 1488.93) rotate(-45) matrix(1 0 0 1.05 0 0)" x="-56.73" dx="0 5.51 4.24 4.24">B111</text>
<text class="b" font-size="16.1" transform="translate(267.13 1488.93) rotate(-45) matrix(1 0 0 1.05 0 0)" x="-43.53" dx="0 5.51 4.24">B10</text>
<text class="b" font-size="16.1" transform="translate(304.02 1488.93) rotate(-45) matrix(1 0 0 1.05 0 0)" x="-43.53" dx="0 5.51 4.24">B13</text>
<text class="b" font-size="16.1" transform="translate(340.9 1488.93) rotate(-45) matrix(1 0 0 1.05 0 0)" x="-43.53" dx="0 5.51 4.24">B23</text>
<text class="b" font-size="16.1" transform="translate(377.78 1488.93) rotate(-45) matrix(1 0 0 1.05 0 0)" x="-43.53" dx="0 5.51 4.24">B98</text>
<text class="b" font-size="21.13" transform="translate(239.64 1108.69) matrix(1 .0005 0 1.02 0 0)" x="-35.05" dx="0 6.93 2.31 6.01">MICA</text>
<text class="b" font-size="18.41" transform="translate(47.74 1300.79) rotate(-90) matrix(1 0 0 0.96 0 0)" x="-184.12" dx="0 5.53 1.84 4.79 4.79 2.21 3.69 3.69 4.05 2.58 3.69 3.69 3.69 1.84 4.05 4.05 1.84 2.21 2.21 4.05 1.84 4.05 2.21 3.69 4.05 3.69 4.05 4.05 3.69">MICA-expression [fold-change]</text>
</g>
<g>
<rect x="538.52" y="1380.97" width="53.72" height="73.55" fill="#808080"/>
<path d="M623.25 1302.41V1220.86M609.87 1220.86H636.63" stroke="#000" stroke-width="1.7" fill="none"/>
<rect x="596.69" y="1301.41" width="53.72" height="153.1" fill="#000"/>
<path d="M681.41 1369.96V1325.43M668.03 1325.43H694.79" stroke="#000" stroke-width="1.7" fill="none"/>
<rect x="656.9" y="1370.56" width="50.12" height="83.96" fill="#fff" stroke="#000" stroke-width="3.2"/>
<path d="M526.31 1158.53V1456.06M514.23 1454.52H722.82M514.23 1380.9H526.31M514.23 1307.29H526.31M514.23 1233.68H526.31M514.23 1160.07H526.31M519.98 1417.71H526.31M519.98 1344.1H526.31M519.98 1270.49H526.31M519.98 1196.88H526.31M565.08 1454.52V1466.59M623.25 1454.52V1466.59M681.41 1454.52V1466.59" stroke="#000" stroke-width="3.08" fill="none"/>
<text class="b" font-size="15.32" transform="translate(507.82 1462.56) matrix(1 .0005 0 1.05 0 0)" x="-8.24" dx="0">0</text>
<text class="b" font-size="15.32" transform="translate(507.82 1388.95) matrix(1 .0005 0 1.05 0 0)" x="-8.44" dx="0">1</text>
<text class="b" font-size="15.32" transform="translate(507.82 1315.34) matrix(1 .0005 0 1.05 0 0)" x="-8.26" dx="0">2</text>
<text class="b" font-size="15.32" transform="translate(507.82 1241.73) matrix(1 .0005 0 1.05 0 0)" x="-8.32" dx="0">3</text>
<text class="b" font-size="15.32" transform="translate(507.82 1168.12) matrix(1 .0005 0 1.05 0 0)" x="-8.79" dx="0">4</text>
<text class="b" font-size="15.32" transform="translate(572.98 1486.55) rotate(-45) matrix(1 0 0 1.05 0 0)" x="-35.14" dx="0 4.04 2.42 2.82">ctrl</text>
<text class="b" font-size="15.32" transform="translate(631.15 1486.55) rotate(-45) matrix(1 0 0 1.05 0 0)" x="-52.7" dx="0 4.43 2.02 4.04 2.42">L 1-3</text>
<text class="b" font-size="15.32" transform="translate(689.31 1486.55) rotate(-45) matrix(1 0 0 1.05 0 0)" x="-53.97" dx="0 4.84 2.02 4.04 2.42">E 1-4</text>
<text class="b" font-size="20.11" transform="translate(620.62 1126.2) matrix(1 .0005 0 1.02 0 0)" x="-33.35" dx="0 6.59 2.2 5.72">MICA</text>
<text class="b" font-size="17.52" transform="translate(487.03 1307.67) rotate(-90) matrix(1 0 0 0.96 0 0)" x="-175.2" dx="0 5.26 1.75 4.56 4.56 2.1 3.51 3.51 3.86 2.46 3.51 3.51 3.51 1.75 3.86 3.86 1.75 2.1 2.1 3.86 1.75 3.86 2.1 3.51 3.86 3.51 3.86 3.86 3.51">MICA-expression [fold-change]</text>
<path d="M562.08 1183.19V1173.33H682.66V1183.19" stroke="#000" stroke-width="3.1" fill="none"/>
<text class="r" font-size="12.45" transform="translate(620.62 1164.33) matrix(1 .0005 0 1.03 0 0)" x="-19.06" dx="0 2.01 1 2.01 2.01">0.448</text>
<path d="M562.08 1216.46V1206.35H620.24V1216.46" stroke="#000" stroke-width="3.1" fill="none"/>
<text class="r" font-size="12.45" transform="translate(590.6 1197.6) matrix(1 .0005 0 1.03 0 0)" x="-19.04" dx="0 2.01 1 2.01 2.01">0.499</text>
<path d="M624.75 1216.46V1206.35H682.66V1216.46" stroke="#000" stroke-width="3.1" fill="none"/>
<text class="r" font-size="12.45" transform="translate(651.89 1197.6) matrix(1 .0005 0 1.03 0 0)" x="-19.04" dx="0 2.01 1 2.01 2.01">0.409</text>
</g>
<g>
<rect x="952.93" y="1403.23" width="33.88" height="52.03" fill="#808080"/>
<path d="M1006.41 1398.23V1386.47M998.17 1386.47H1014.65" stroke="#000" stroke-width="1.7" fill="none"/>
<rect x="989.77" y="1397.23" width="33.88" height="58.04" fill="#000"/>
<path d="M1043.26 1436.25V1424M1035.01 1424H1051.5" stroke="#000" stroke-width="1.7" fill="none"/>
<rect x="1026.62" y="1435.25" width="33.88" height="20.01" fill="#000"/>
<path d="M1080.1 1420.24V1409.99M1071.86 1409.99H1088.35" stroke="#000" stroke-width="1.7" fill="none"/>
<rect x="1063.46" y="1419.24" width="33.88" height="36.02" fill="#000"/>
<path d="M1116.95 1397.48V1373.96M1108.7 1373.96H1125.19" stroke="#000" stroke-width="1.7" fill="none"/>
<rect x="1102.36" y="1398.08" width="30.28" height="57.19" fill="#fff" stroke="#000" stroke-width="3.2"/>
<path d="M1153.79 1410.49V1393.23M1145.55 1393.23H1162.04" stroke="#000" stroke-width="1.7" fill="none"/>
<rect x="1139.2" y="1411.09" width="30.28" height="44.18" fill="#fff" stroke="#000" stroke-width="3.2"/>
<path d="M1190.64 1407.98V1400.23M1182.4 1400.23H1198.88" stroke="#000" stroke-width="1.7" fill="none"/>
<rect x="1176.05" y="1408.58" width="30.28" height="46.68" fill="#fff" stroke="#000" stroke-width="3.2"/>
<path d="M1227.48 1414.49V1398.23M1219.24 1398.23H1235.73" stroke="#000" stroke-width="1.7" fill="none"/>
<rect x="1212.89" y="1415.09" width="30.28" height="40.18" fill="#fff" stroke="#000" stroke-width="3.2"/>
<path d="M945.55 1144.73V1456.85M932.91 1455.27H1254.38M932.91 1352.28H945.55M932.91 1249.3H945.55M932.91 1146.31H945.55M938.94 1403.77H945.55M938.94 1300.79H945.55M938.94 1197.81H945.55M969.57 1455.27V1467.91M1006.41 1455.27V1467.91M1043.26 1455.27V1467.91M1080.1 1455.27V1467.91M1116.95 1455.27V1467.91M1153.79 1455.27V1467.91M1190.64 1455.27V1467.91M1227.48 1455.27V1467.91" stroke="#000" stroke-width="3.16" fill="none"/>
<text class="b" font-size="16.09" transform="translate(926.17 1463.71) matrix(1 .0005 0 1.05 0 0)" x="-8.64" dx="0">0</text>
<text class="b" font-size="16.09" transform="translate(926.17 1360.73) matrix(1 .0005 0 1.05 0 0)" x="-8.66" dx="0">2</text>
<text class="b" font-size="16.09" transform="translate(926.17 1257.75) matrix(1 .0005 0 1.05 0 0)" x="-9.21" dx="0">4</text>
<text class="b" font-size="16.09" transform="translate(926.17 1154.76) matrix(1 .0005 0 1.05 0 0)" x="-8.72" dx="0">6</text>
<text class="b" font-size="16.09" transform="translate(977.86 1488.91) rotate(-45) matrix(1 0 0 1.05 0 0)" x="-56.7" dx="0 5.51 4.24 4.24">B106</text>
<text class="b" font-size="16.09" transform="translate(1014.71 1488.91) rotate(-45) matrix(1 0 0 1.05 0 0)" x="-43.51" dx="0 5.51 4.24">B50</text>
<text class="b" font-size="16.09" transform="translate(1051.55 1488.91) rotate(-45) matrix(1 0 0 1.05 0 0)" x="-56.7" dx="0 5.51 4.24 4.24">B101</text>
<text class="b" font-size="16.09" transform="translate(1088.4 1488.91) rotate(-45) matrix(1 0 0 1.05 0 0)" x="-56.7" dx="0 5.51 4.24 4.24">B111</text>
<text class="b" font-size="16.09" transform="translate(1125.25 1488.91) rotate(-45) matrix(1 0 0 1.05 0 0)" x="-43.51" dx="0 5.51 4.24">B10</text>
<text class="b" font-size="16.09" transform="translate(1162.09 1488.91) rotate(-45) matrix(1 0 0 1.05 0 0)" x="-43.51" dx="0 5.51 4.24">B13</text>
<text class="b" font-size="16.09" transform="translate(1198.94 1488.91) rotate(-45) matrix(1 0 0 1.05 0 0)" x="-43.51" dx="0 5.51 4.24">B23</text>
<text class="b" font-size="16.09" transform="translate(1235.78 1488.91) rotate(-45) matrix(1 0 0 1.05 0 0)" x="-43.51" dx="0 5.51 4.24">B98</text>
<text class="b" font-size="21.12" transform="translate(1096.4 1106.94) matrix(1 .0005 0 1.02 0 0)" x="-49.61" dx="0 2.31 5.08 6 5.08 6">IFNLR1</text>
<text class="b" font-size="18.41" transform="translate(904.75 1300.79) rotate(-90) matrix(1 0 0 0.96 0 0)" x="-197.77" dx="0 1.91 4.2 4.97 4.2 4.97 3.83 2.29 3.83 3.83 4.2 2.68 3.83 3.83 3.83 1.91 4.2 4.2 1.91 2.29 2.29 4.2 1.91 4.2 2.29 3.83 4.2 3.83 4.2 4.2 3.83">IFNLR1-expression [fold-change]</text>
</g>
<g>
<rect x="1399.28" y="1378.97" width="54.76" height="74.8" fill="#808080"/>
<path d="M1485.65 1400.23V1383.97M1472.01 1383.97H1499.29" stroke="#000" stroke-width="1.7" fill="none"/>
<rect x="1458.57" y="1399.23" width="54.76" height="54.54" fill="#000"/>
<path d="M1544.93 1384.22V1377.21M1531.3 1377.21H1558.57" stroke="#000" stroke-width="1.7" fill="none"/>
<rect x="1519.91" y="1384.82" width="51.16" height="68.95" fill="#fff" stroke="#000" stroke-width="3.2"/>
<path d="M1386.33 1152.26V1455.32M1374.04 1453.76H1587.15M1374.04 1378.78H1386.33M1374.04 1303.79H1386.33M1374.04 1228.8H1386.33M1374.04 1153.82H1386.33M1379.9 1416.27H1386.33M1379.9 1341.28H1386.33M1379.9 1266.3H1386.33M1379.9 1191.31H1386.33M1426.36 1453.76V1466.05M1485.65 1453.76V1466.05M1544.93 1453.76V1466.05" stroke="#000" stroke-width="3.11" fill="none"/>
<text class="b" font-size="15.61" transform="translate(1367.5 1461.96) matrix(1 .0005 0 1.05 0 0)" x="-8.39" dx="0">0</text>
<text class="b" font-size="15.61" transform="translate(1367.5 1386.97) matrix(1 .0005 0 1.05 0 0)" x="-8.6" dx="0">1</text>
<text class="b" font-size="15.61" transform="translate(1367.5 1311.99) matrix(1 .0005 0 1.05 0 0)" x="-8.41" dx="0">2</text>
<text class="b" font-size="15.61" transform="translate(1367.5 1237) matrix(1 .0005 0 1.05 0 0)" x="-8.47" dx="0">3</text>
<text class="b" font-size="15.61" transform="translate(1367.5 1162.01) matrix(1 .0005 0 1.05 0 0)" x="-8.95" dx="0">4</text>
<text class="b" font-size="15.61" transform="translate(1434.41 1486.4) rotate(-45) matrix(1 0 0 1.05 0 0)" x="-35.8" dx="0 4.11 2.46 2.88">ctrl</text>
<text class="b" font-size="15.61" transform="translate(1493.7 1486.4) rotate(-45) matrix(1 0 0 1.05 0 0)" x="-53.7" dx="0 4.52 2.05 4.11 2.46">L 1-3</text>
<text class="b" font-size="15.61" transform="translate(1552.99 1486.4) rotate(-45) matrix(1 0 0 1.05 0 0)" x="-54.99" dx="0 4.93 2.05 4.11 2.46">E 1-4</text>
<text class="b" font-size="20.49" transform="translate(1484.4 1118.2) matrix(1 .0005 0 1.02 0 0)" x="-48.13" dx="0 2.24 4.93 5.83 4.93 5.83">IFNLR1</text>
<text class="b" font-size="17.86" transform="translate(1346.39 1305.79) rotate(-90) matrix(1 0 0 0.96 0 0)" x="-191.86" dx="0 1.86 4.08 4.82 4.08 4.82 3.71 2.22 3.71 3.71 4.08 2.6 3.71 3.71 3.71 1.86 4.08 4.08 1.86 2.22 2.22 4.08 1.86 4.08 2.22 3.71 4.08 3.71 4.08 4.08 3.71">IFNLR1-expression [fold-change]</text>
<path d="M1426.36 1368.31V1358.2H1485.65V1368.31" stroke="#000" stroke-width="3.1" fill="none"/>
<text class="r" font-size="12.68" transform="translate(1454.38 1348.2) matrix(1 .0005 0 1.03 0 0)" x="-19.38" dx="0 2.05 1.02 2.05 2.05">0.157</text>
<path d="M1426.36 1327.53V1317.68H1544.43V1327.53" stroke="#000" stroke-width="3.1" fill="none"/>
<text class="r" font-size="12.68" transform="translate(1483.64 1310.67) matrix(1 .0005 0 1.03 0 0)" x="-14.88" dx="0 2.05 1.02 2.05">0.05</text>
<text class="r" font-size="10.25" transform="translate(1483.64 1298.23) matrix(1 .0005 0 1 0 0)" x="-2" dx="0">*</text>
<path d="M1483.64 1279V1268.89H1543.68V1279" stroke="#000" stroke-width="3.1" fill="none"/>
<text class="r" font-size="12.68" transform="translate(1511.41 1260.89) matrix(1 .0005 0 1.03 0 0)" x="-19.42" dx="0 2.05 1.02 2.05 2.05">0.326</text>
</g>
<g>
<rect x="92.68" y="1918.48" width="33.85" height="52.03" fill="#808080"/>
<path d="M146.12 1855.19V1789.64M137.88 1789.64H154.35" stroke="#000" stroke-width="1.7" fill="none"/>
<rect x="129.49" y="1854.19" width="33.85" height="116.33" fill="#000"/>
<path d="M182.93 1964.26V1957.75M174.69 1957.75H191.16" stroke="#000" stroke-width="1.7" fill="none"/>
<rect x="166.3" y="1963.26" width="33.85" height="7.25" fill="#000"/>
<path d="M219.73 1951.25V1937.74M211.5 1937.74H227.97" stroke="#000" stroke-width="1.7" fill="none"/>
<rect x="203.11" y="1950.25" width="33.85" height="20.26" fill="#000"/>
<path d="M256.54 1818.91V1729.1M248.31 1729.1H264.78" stroke="#000" stroke-width="1.7" fill="none"/>
<rect x="241.97" y="1819.51" width="30.25" height="151" fill="#fff" stroke="#000" stroke-width="3.2"/>
<path d="M293.35 1847.68V1773.13M285.12 1773.13H301.59" stroke="#000" stroke-width="1.7" fill="none"/>
<rect x="278.78" y="1848.28" width="30.25" height="122.23" fill="#fff" stroke="#000" stroke-width="3.2"/>
<path d="M330.16 1927.48V1901.72M321.93 1901.72H338.4" stroke="#000" stroke-width="1.7" fill="none"/>
<rect x="315.59" y="1928.08" width="30.25" height="42.43" fill="#fff" stroke="#000" stroke-width="3.2"/>
<path d="M366.97 1941.24V1936.49M358.74 1936.49H375.21" stroke="#000" stroke-width="1.7" fill="none"/>
<rect x="352.4" y="1941.84" width="30.25" height="28.67" fill="#fff" stroke="#000" stroke-width="3.2"/>
<path d="M85.04 1660.48V1972.09M72.41 1970.51H393.85M72.41 1867.7H85.04M72.41 1764.88H85.04M72.41 1662.06H85.04M78.44 1919.1H85.04M78.44 1816.29H85.04M78.44 1713.47H85.04M109.31 1970.51V1983.14M146.12 1970.51V1983.14M182.93 1970.51V1983.14M219.73 1970.51V1983.14M256.54 1970.51V1983.14M293.35 1970.51V1983.14M330.16 1970.51V1983.14M366.97 1970.51V1983.14" stroke="#000" stroke-width="3.16" fill="none"/>
<text class="b" font-size="16.07" transform="translate(65.68 1978.95) matrix(1 .0005 0 1.05 0 0)" x="-8.63" dx="0">0</text>
<text class="b" font-size="16.07" transform="translate(65.68 1876.13) matrix(1 .0005 0 1.05 0 0)" x="-8.64" dx="0">2</text>
<text class="b" font-size="16.07" transform="translate(65.68 1773.32) matrix(1 .0005 0 1.05 0 0)" x="-9.2" dx="0">4</text>
<text class="b" font-size="16.07" transform="translate(65.68 1670.5) matrix(1 .0005 0 1.05 0 0)" x="-8.71" dx="0">6</text>
<text class="b" font-size="16.07" transform="translate(117.59 2004.11) rotate(-45) matrix(1 0 0 1.05 0 0)" x="-56.62" dx="0 5.5 4.23 4.23">B106</text>
<text class="b" font-size="16.07" transform="translate(154.4 2004.11) rotate(-45) matrix(1 0 0 1.05 0 0)" x="-43.45" dx="0 5.5 4.23">B50</text>
<text class="b" font-size="16.07" transform="translate(191.21 2004.11) rotate(-45) matrix(1 0 0 1.05 0 0)" x="-56.62" dx="0 5.5 4.23 4.23">B101</text>
<text class="b" font-size="16.07" transform="translate(228.02 2004.11) rotate(-45) matrix(1 0 0 1.05 0 0)" x="-56.62" dx="0 5.5 4.23 4.23">B111</text>
<text class="b" font-size="16.07" transform="translate(264.83 2004.11) rotate(-45) matrix(1 0 0 1.05 0 0)" x="-43.45" dx="0 5.5 4.23">B10</text>
<text class="b" font-size="16.07" transform="translate(301.64 2004.11) rotate(-45) matrix(1 0 0 1.05 0 0)" x="-43.45" dx="0 5.5 4.23">B13</text>
<text class="b" font-size="16.07" transform="translate(338.45 2004.11) rotate(-45) matrix(1 0 0 1.05 0 0)" x="-43.45" dx="0 5.5 4.23">B23</text>
<text class="b" font-size="16.07" transform="translate(375.26 2004.11) rotate(-45) matrix(1 0 0 1.05 0 0)" x="-43.45" dx="0 5.5 4.23">B98</text>
<text class="b" font-size="21.09" transform="translate(236.89 1622.43) matrix(1 .0005 0 1.02 0 0)" x="-37.59" dx="0 6 5.07 5.54">CTSO</text>
<text class="b" font-size="18.38" transform="translate(45.98 1816.41) rotate(-90) matrix(1 0 0 0.96 0 0)" x="-187.89" dx="0 4.94 4.18 4.56 5.32 2.28 3.8 3.8 4.18 2.66 3.8 3.8 3.8 1.9 4.18 4.18 1.9 2.28 2.28 4.18 1.9 4.18 2.28 3.8 4.18 3.8 4.18 4.18 3.8">CTSO-expression [fold-change]</text>
</g>
<g>
<rect x="540.06" y="1896.96" width="53.14" height="72.8" fill="#808080"/>
<path d="M623.87 1902.97V1853.19M610.63 1853.19H637.11" stroke="#000" stroke-width="1.7" fill="none"/>
<rect x="597.6" y="1901.97" width="53.14" height="67.79" fill="#000"/>
<path d="M681.41 1847.43V1804.15M668.17 1804.15H694.64" stroke="#000" stroke-width="1.7" fill="none"/>
<rect x="657.19" y="1848.03" width="49.54" height="121.73" fill="#fff" stroke="#000" stroke-width="3.2"/>
<path d="M527.56 1677.29V1971.3M515.61 1969.76H722.38M515.61 1897.03H527.56M515.61 1824.29H527.56M515.61 1751.56H527.56M515.61 1678.82H527.56M521.29 1933.39H527.56M521.29 1860.66H527.56M521.29 1787.92H527.56M521.29 1715.19H527.56M566.33 1969.76V1981.71M623.87 1969.76V1981.71M681.41 1969.76V1981.71" stroke="#000" stroke-width="3.07" fill="none"/>
<text class="b" font-size="15.15" transform="translate(509.27 1977.71) matrix(1 .0005 0 1.05 0 0)" x="-8.15" dx="0">0</text>
<text class="b" font-size="15.15" transform="translate(509.27 1904.98) matrix(1 .0005 0 1.05 0 0)" x="-8.35" dx="0">1</text>
<text class="b" font-size="15.15" transform="translate(509.27 1832.24) matrix(1 .0005 0 1.05 0 0)" x="-8.17" dx="0">2</text>
<text class="b" font-size="15.15" transform="translate(509.27 1759.51) matrix(1 .0005 0 1.05 0 0)" x="-8.23" dx="0">3</text>
<text class="b" font-size="15.15" transform="translate(509.27 1686.77) matrix(1 .0005 0 1.05 0 0)" x="-8.69" dx="0">4</text>
<text class="b" font-size="15.15" transform="translate(574.14 2001.43) rotate(-45) matrix(1 0 0 1.05 0 0)" x="-34.74" dx="0 3.99 2.39 2.79">ctrl</text>
<text class="b" font-size="15.15" transform="translate(631.68 2001.43) rotate(-45) matrix(1 0 0 1.05 0 0)" x="-52.1" dx="0 4.38 1.99 3.99 2.39">L 1-3</text>
<text class="b" font-size="15.15" transform="translate(689.22 2001.43) rotate(-45) matrix(1 0 0 1.05 0 0)" x="-53.36" dx="0 4.79 1.99 3.99 2.39">E 1-4</text>
<text class="b" font-size="19.88" transform="translate(621.37 1643.7) matrix(1 .0005 0 1.02 0 0)" x="-35.43" dx="0 5.65 4.78 5.22">CTSO</text>
<text class="b" font-size="17.32" transform="translate(488.98 1825.17) rotate(-90) matrix(1 0 0 0.96 0 0)" x="-177.08" dx="0 4.65 3.94 4.3 5.01 2.15 3.58 3.58 3.94 2.51 3.58 3.58 3.58 1.79 3.94 3.94 1.79 2.15 2.15 3.94 1.79 3.94 2.15 3.58 3.94 3.58 3.94 3.94 3.58">CTSO-expression [fold-change]</text>
<path d="M565.83 1847.03V1837.18H623.87V1847.03" stroke="#000" stroke-width="3.1" fill="none"/>
<text class="r" font-size="12.31" transform="translate(593.6 1829.67) matrix(1 .0005 0 1.03 0 0)" x="-18.82" dx="0 1.98 0.99 1.98 1.98">0.189</text>
<path d="M566.33 1800V1790.14H681.41V1800" stroke="#000" stroke-width="3.1" fill="none"/>
<text class="r" font-size="12.31" transform="translate(622.12 1782.14) matrix(1 .0005 0 1.03 0 0)" x="-18.87" dx="0 1.98 0.99 1.98 1.98">0.880</text>
<path d="M621.87 1759.47V1749.37H679.66V1759.47" stroke="#000" stroke-width="3.1" fill="none"/>
<text class="r" font-size="12.31" transform="translate(650.89 1741.86) matrix(1 .0005 0 1.03 0 0)" x="-18.84" dx="0 1.98 0.99 1.98 1.98">0.216</text>
</g>
<g>
<rect x="952.43" y="1918.98" width="33.88" height="51.53" fill="#808080"/>
<path d="M1005.91 1941.99V1930.99M997.67 1930.99H1014.15" stroke="#000" stroke-width="1.7" fill="none"/>
<rect x="989.27" y="1940.99" width="33.88" height="29.52" fill="#000"/>
<path d="M1042.76 1931.99V1917.98M1034.51 1917.98H1051" stroke="#000" stroke-width="1.7" fill="none"/>
<rect x="1026.12" y="1930.99" width="33.88" height="39.53" fill="#000"/>
<path d="M1079.6 1929.99V1911.47M1071.36 1911.47H1087.85" stroke="#000" stroke-width="1.7" fill="none"/>
<rect x="1062.96" y="1928.99" width="33.88" height="41.53" fill="#000"/>
<path d="M1116.45 1953.25V1947.5M1108.2 1947.5H1124.69" stroke="#000" stroke-width="1.7" fill="none"/>
<rect x="1101.86" y="1953.85" width="30.28" height="16.66" fill="#fff" stroke="#000" stroke-width="3.2"/>
<path d="M1153.29 1877.2V1806.66M1145.05 1806.66H1161.54" stroke="#000" stroke-width="1.7" fill="none"/>
<rect x="1138.7" y="1877.8" width="30.28" height="92.71" fill="#fff" stroke="#000" stroke-width="3.2"/>
<path d="M1190.14 1942.24V1924.48M1181.89 1924.48H1198.38" stroke="#000" stroke-width="1.7" fill="none"/>
<rect x="1175.55" y="1942.84" width="30.28" height="27.67" fill="#fff" stroke="#000" stroke-width="3.2"/>
<path d="M1226.98 1950.75V1944.25M1218.74 1944.25H1235.23" stroke="#000" stroke-width="1.7" fill="none"/>
<rect x="1212.39" y="1951.35" width="30.28" height="19.16" fill="#fff" stroke="#000" stroke-width="3.2"/>
<path d="M945.05 1660.48V1972.09M932.42 1970.51H1253.88M932.42 1867.7H945.05M932.42 1764.88H945.05M932.42 1662.06H945.05M938.45 1919.1H945.05M938.45 1816.29H945.05M938.45 1713.47H945.05M969.07 1970.51V1983.15M1005.91 1970.51V1983.15M1042.76 1970.51V1983.15M1079.6 1970.51V1983.15M1116.45 1970.51V1983.15M1153.29 1970.51V1983.15M1190.14 1970.51V1983.15M1226.98 1970.51V1983.15" stroke="#000" stroke-width="3.16" fill="none"/>
<text class="b" font-size="16.08" transform="translate(925.68 1978.95) matrix(1 .0005 0 1.05 0 0)" x="-8.63" dx="0">0</text>
<text class="b" font-size="16.08" transform="translate(925.68 1876.14) matrix(1 .0005 0 1.05 0 0)" x="-8.65" dx="0">2</text>
<text class="b" font-size="16.08" transform="translate(925.68 1773.32) matrix(1 .0005 0 1.05 0 0)" x="-9.21" dx="0">4</text>
<text class="b" font-size="16.08" transform="translate(925.68 1670.5) matrix(1 .0005 0 1.05 0 0)" x="-8.71" dx="0">6</text>
<text class="b" font-size="16.08" transform="translate(977.36 2004.13) rotate(-45) matrix(1 0 0 1.05 0 0)" x="-56.65" dx="0 5.5 4.24 4.24">B106</text>
<text class="b" font-size="16.08" transform="translate(1014.2 2004.13) rotate(-45) matrix(1 0 0 1.05 0 0)" x="-43.47" dx="0 5.5 4.24">B50</text>
<text class="b" font-size="16.08" transform="translate(1051.05 2004.13) rotate(-45) matrix(1 0 0 1.05 0 0)" x="-56.65" dx="0 5.5 4.24 4.24">B101</text>
<text class="b" font-size="16.08" transform="translate(1087.89 2004.13) rotate(-45) matrix(1 0 0 1.05 0 0)" x="-56.65" dx="0 5.5 4.24 4.24">B111</text>
<text class="b" font-size="16.08" transform="translate(1124.74 2004.13) rotate(-45) matrix(1 0 0 1.05 0 0)" x="-43.47" dx="0 5.5 4.24">B10</text>
<text class="b" font-size="16.08" transform="translate(1161.58 2004.13) rotate(-45) matrix(1 0 0 1.05 0 0)" x="-43.47" dx="0 5.5 4.24">B13</text>
<text class="b" font-size="16.08" transform="translate(1198.43 2004.13) rotate(-45) matrix(1 0 0 1.05 0 0)" x="-43.47" dx="0 5.5 4.24">B23</text>
<text class="b" font-size="16.08" transform="translate(1235.28 2004.13) rotate(-45) matrix(1 0 0 1.05 0 0)" x="-43.47" dx="0 5.5 4.24">B98</text>
<text class="b" font-size="21.1" transform="translate(1095.9 1622.43) matrix(1 .0005 0 1.02 0 0)" x="-47.68" dx="0 6 6 6 5.54">CDCP1</text>
<text class="b" font-size="18.39" transform="translate(904.74 1816.41) rotate(-90) matrix(1 0 0 0.96 0 0)" x="-196.09" dx="0 4.98 4.98 4.98 4.6 3.83 2.29 3.83 3.83 4.21 2.68 3.83 3.83 3.83 1.91 4.21 4.21 1.91 2.29 2.29 4.21 1.91 4.21 2.29 3.83 4.21 3.83 4.21 4.21 3.83">CDCP1-expression [fold-change]</text>
</g>
<g>
<rect x="1398.87" y="1895.46" width="54.07" height="74.8" fill="#808080"/>
<path d="M1484.15 1918.23V1911.97M1470.68 1911.97H1497.61" stroke="#000" stroke-width="1.7" fill="none"/>
<rect x="1457.41" y="1917.23" width="54.07" height="53.03" fill="#000"/>
<path d="M1542.68 1913.72V1885.96M1529.22 1885.96H1556.15" stroke="#000" stroke-width="1.7" fill="none"/>
<rect x="1518" y="1914.32" width="50.47" height="55.94" fill="#fff" stroke="#000" stroke-width="3.2"/>
<path d="M1385.58 1671.02V1971.81M1373.41 1970.26H1584.36M1373.41 1895.84H1385.58M1373.41 1821.41H1385.58M1373.41 1746.99H1385.58M1373.41 1672.57H1385.58M1379.2 1933.05H1385.58M1379.2 1858.63H1385.58M1379.2 1784.2H1385.58M1379.2 1709.78H1385.58M1425.61 1970.26V1982.44M1484.15 1970.26V1982.44M1542.68 1970.26V1982.44" stroke="#000" stroke-width="3.1" fill="none"/>
<text class="b" font-size="15.45" transform="translate(1366.94 1978.38) matrix(1 .0005 0 1.05 0 0)" x="-8.31" dx="0">0</text>
<text class="b" font-size="15.45" transform="translate(1366.94 1903.95) matrix(1 .0005 0 1.05 0 0)" x="-8.52" dx="0">1</text>
<text class="b" font-size="15.45" transform="translate(1366.94 1829.53) matrix(1 .0005 0 1.05 0 0)" x="-8.33" dx="0">2</text>
<text class="b" font-size="15.45" transform="translate(1366.94 1755.1) matrix(1 .0005 0 1.05 0 0)" x="-8.39" dx="0">3</text>
<text class="b" font-size="15.45" transform="translate(1366.94 1680.68) matrix(1 .0005 0 1.05 0 0)" x="-8.86" dx="0">4</text>
<text class="b" font-size="15.45" transform="translate(1433.58 2002.57) rotate(-45) matrix(1 0 0 1.05 0 0)" x="-35.44" dx="0 4.07 2.44 2.85">ctrl</text>
<text class="b" font-size="15.45" transform="translate(1492.11 2002.57) rotate(-45) matrix(1 0 0 1.05 0 0)" x="-53.16" dx="0 4.47 2.03 4.07 2.44">L 1-3</text>
<text class="b" font-size="15.45" transform="translate(1550.65 2002.57) rotate(-45) matrix(1 0 0 1.05 0 0)" x="-54.44" dx="0 4.88 2.03 4.07 2.44">E 1-4</text>
<text class="b" font-size="20.28" transform="translate(1482.64 1637.44) matrix(1 .0005 0 1.02 0 0)" x="-45.83" dx="0 5.77 5.77 5.77 5.33">CDCP1</text>
<text class="b" font-size="17.68" transform="translate(1346.34 1821.41) rotate(-90) matrix(1 0 0 0.96 0 0)" x="-188.47" dx="0 4.78 4.78 4.78 4.42 3.68 2.21 3.68 3.68 4.05 2.58 3.68 3.68 3.68 1.84 4.05 4.05 1.84 2.21 2.21 4.05 1.84 4.05 2.21 3.68 4.05 3.68 4.05 4.05 3.68">CDCP1-expression [fold-change]</text>
<path d="M1425.61 1885.81V1875.7H1484.15V1885.81" stroke="#000" stroke-width="3.1" fill="none"/>
<text class="r" font-size="12.56" transform="translate(1455.13 1867.7) matrix(1 .0005 0 1.03 0 0)" x="-23.71" dx="0 2.03 1.01 2.03 2.03 2.03">0.0009</text>
<text class="r" font-size="10.14" transform="translate(1455.13 1855.21) matrix(1 .0005 0 1 0 0)" x="-7.23" dx="0 1.3 1.3">***</text>
<path d="M1425.61 1840.78V1831.42H1541.93V1840.78" stroke="#000" stroke-width="3.1" fill="none"/>
<text class="r" font-size="12.56" transform="translate(1481.89 1822.67) matrix(1 .0005 0 1.03 0 0)" x="-19.19" dx="0 2.03 1.01 2.03 2.03">0.001</text>
<text class="r" font-size="10.14" transform="translate(1481.89 1810.68) matrix(1 .0005 0 1 0 0)" x="-4.6" dx="0 1.3">**</text>
<path d="M1481.39 1788.24V1778.14H1540.18V1788.24" stroke="#000" stroke-width="3.1" fill="none"/>
<text class="r" font-size="12.56" transform="translate(1509.41 1770.63) matrix(1 .0005 0 1.03 0 0)" x="-19.32" dx="0 2.03 1.01 2.03 2.03">0.114</text>
</g>
<g>
<rect x="91.96" y="2438.23" width="33.29" height="51.28" fill="#808080"/>
<path d="M144.51 2461.74V2455.24M136.41 2455.24H152.61" stroke="#000" stroke-width="1.7" fill="none"/>
<rect x="128.16" y="2460.74" width="33.29" height="28.77" fill="#000"/>
<path d="M180.71 2472.25V2463.75M172.61 2463.75H188.81" stroke="#000" stroke-width="1.7" fill="none"/>
<rect x="164.37" y="2471.25" width="33.29" height="18.26" fill="#000"/>
<path d="M216.91 2453.74V2437.98M208.81 2437.98H225.01" stroke="#000" stroke-width="1.7" fill="none"/>
<rect x="200.57" y="2452.74" width="33.29" height="36.77" fill="#000"/>
<path d="M253.11 2479.5V2476M245.01 2476H261.21" stroke="#000" stroke-width="1.7" fill="none"/>
<rect x="238.82" y="2480.1" width="29.69" height="9.41" fill="#fff" stroke="#000" stroke-width="3.2"/>
<path d="M289.32 2477V2468.75M281.22 2468.75H297.42" stroke="#000" stroke-width="1.7" fill="none"/>
<rect x="275.02" y="2477.6" width="29.69" height="11.91" fill="#fff" stroke="#000" stroke-width="3.2"/>
<path d="M325.52 2464.24V2452.24M317.42 2452.24H333.62" stroke="#000" stroke-width="1.7" fill="none"/>
<rect x="311.22" y="2464.84" width="29.69" height="24.67" fill="#fff" stroke="#000" stroke-width="3.2"/>
<path d="M361.72 2457.24V2451.74M353.62 2451.74H369.82" stroke="#000" stroke-width="1.7" fill="none"/>
<rect x="347.43" y="2457.84" width="29.69" height="31.67" fill="#fff" stroke="#000" stroke-width="3.2"/>
<path d="M84.29 2184V2491.08M71.85 2489.51H388.15M71.85 2388.2H84.29M71.85 2286.88H84.29M71.85 2185.56H84.29M77.78 2438.85H84.29M77.78 2337.54H84.29M77.78 2236.22H84.29M108.3 2489.51V2501.96M144.51 2489.51V2501.96M180.71 2489.51V2501.96M216.91 2489.51V2501.96M253.11 2489.51V2501.96M289.32 2489.51V2501.96M325.52 2489.51V2501.96M361.72 2489.51V2501.96" stroke="#000" stroke-width="3.13" fill="none"/>
<text class="b" font-size="15.82" transform="translate(65.22 2497.82) matrix(1 .0005 0 1.05 0 0)" x="-8.5" dx="0">0</text>
<text class="b" font-size="15.82" transform="translate(65.22 2396.5) matrix(1 .0005 0 1.05 0 0)" x="-8.52" dx="0">2</text>
<text class="b" font-size="15.82" transform="translate(65.22 2295.19) matrix(1 .0005 0 1.05 0 0)" x="-9.06" dx="0">4</text>
<text class="b" font-size="15.82" transform="translate(65.22 2193.87) matrix(1 .0005 0 1.05 0 0)" x="-8.58" dx="0">6</text>
<text class="b" font-size="15.82" transform="translate(116.46 2522.59) rotate(-45) matrix(1 0 0 1.05 0 0)" x="-55.74" dx="0 5.41 4.17 4.17">B106</text>
<text class="b" font-size="15.82" transform="translate(152.67 2522.59) rotate(-45) matrix(1 0 0 1.05 0 0)" x="-42.78" dx="0 5.41 4.17">B50</text>
<text class="b" font-size="15.82" transform="translate(188.87 2522.59) rotate(-45) matrix(1 0 0 1.05 0 0)" x="-55.74" dx="0 5.41 4.17 4.17">B101</text>
<text class="b" font-size="15.82" transform="translate(225.07 2522.59) rotate(-45) matrix(1 0 0 1.05 0 0)" x="-55.74" dx="0 5.41 4.17 4.17">B111</text>
<text class="b" font-size="15.82" transform="translate(261.27 2522.59) rotate(-45) matrix(1 0 0 1.05 0 0)" x="-42.78" dx="0 5.41 4.17">B10</text>
<text class="b" font-size="15.82" transform="translate(297.47 2522.59) rotate(-45) matrix(1 0 0 1.05 0 0)" x="-42.78" dx="0 5.41 4.17">B13</text>
<text class="b" font-size="15.82" transform="translate(333.68 2522.59) rotate(-45) matrix(1 0 0 1.05 0 0)" x="-42.78" dx="0 5.41 4.17">B23</text>
<text class="b" font-size="15.82" transform="translate(369.88 2522.59) rotate(-45) matrix(1 0 0 1.05 0 0)" x="-42.78" dx="0 5.41 4.17">B98</text>
<text class="b" font-size="20.77" transform="translate(234.64 2146.94) matrix(1 .0005 0 1.02 0 0)" x="-80.51" dx="0 4.99 5.9 4.99 5.9 5.45 4.99 4.55 4.55">TNFRSF12A</text>
<text class="b" font-size="18.1" transform="translate(45.91 2337.66) rotate(-90) matrix(1 0 0 0.96 0 0)" x="-221.25" dx="0 4.06 4.8 4.06 4.8 4.44 4.06 3.7 3.7 4.8 2.22 3.7 3.7 4.06 2.59 3.7 3.7 3.7 1.85 4.06 4.06 1.85 2.22 2.22 4.06 1.85 4.06 2.22 3.7 4.06 3.7 4.06 4.06 3.7">TNFRSF12A-expression [fold-change]</text>
</g>
<g>
<rect x="540.31" y="2414.21" width="54.64" height="75.3" fill="#808080"/>
<path d="M626.5 2449.61V2440.73M612.89 2440.73H640.11" stroke="#000" stroke-width="1.7" fill="none"/>
<rect x="599.48" y="2448.61" width="54.64" height="40.9" fill="#000"/>
<path d="M685.66 2459.87V2450.99M672.05 2450.99H699.27" stroke="#000" stroke-width="1.7" fill="none"/>
<rect x="660.69" y="2460.47" width="51.04" height="29.05" fill="#fff" stroke="#000" stroke-width="3.2"/>
<path d="M526.81 2187.26V2491.07M514.52 2489.51H727.79M514.52 2414.34H526.81M514.52 2339.16H526.81M514.52 2263.99H526.81M514.52 2188.81H526.81M520.37 2451.92H526.81M520.37 2376.75H526.81M520.37 2301.58H526.81M520.37 2226.4H526.81M567.33 2489.51V2501.8M626.5 2489.51V2501.8M685.66 2489.51V2501.8" stroke="#000" stroke-width="3.11" fill="none"/>
<text class="b" font-size="15.62" transform="translate(507.98 2497.71) matrix(1 .0005 0 1.05 0 0)" x="-8.39" dx="0">0</text>
<text class="b" font-size="15.62" transform="translate(507.98 2422.54) matrix(1 .0005 0 1.05 0 0)" x="-8.6" dx="0">1</text>
<text class="b" font-size="15.62" transform="translate(507.98 2347.36) matrix(1 .0005 0 1.05 0 0)" x="-8.41" dx="0">2</text>
<text class="b" font-size="15.62" transform="translate(507.98 2272.19) matrix(1 .0005 0 1.05 0 0)" x="-8.47" dx="0">3</text>
<text class="b" font-size="15.62" transform="translate(507.98 2197.01) matrix(1 .0005 0 1.05 0 0)" x="-8.95" dx="0">4</text>
<text class="b" font-size="15.62" transform="translate(575.39 2522.16) rotate(-45) matrix(1 0 0 1.05 0 0)" x="-35.81" dx="0 4.11 2.46 2.88">ctrl</text>
<text class="b" font-size="15.62" transform="translate(634.55 2522.16) rotate(-45) matrix(1 0 0 1.05 0 0)" x="-53.71" dx="0 4.52 2.06 4.11 2.46">L 1-3</text>
<text class="b" font-size="15.62" transform="translate(693.71 2522.16) rotate(-45) matrix(1 0 0 1.05 0 0)" x="-55" dx="0 4.93 2.06 4.11 2.46">E 1-4</text>
<text class="b" font-size="20.5" transform="translate(625.12 2152.44) matrix(1 .0005 0 1.02 0 0)" x="-79.46" dx="0 4.93 5.83 4.93 5.83 5.38 4.93 4.49 4.49">TNFRSF12A</text>
<text class="b" font-size="17.86" transform="translate(487.87 2340.79) rotate(-90) matrix(1 0 0 0.96 0 0)" x="-218.37" dx="0 4.01 4.74 4.01 4.74 4.38 4.01 3.65 3.65 4.74 2.19 3.65 3.65 4.01 2.56 3.65 3.65 3.65 1.82 4.01 4.01 1.82 2.19 2.19 4.01 1.82 4.01 2.19 3.65 4.01 3.65 4.01 4.01 3.65">TNFRSF12A-expression [fold-change]</text>
<path d="M567.33 2406.46V2395.83H626.87V2406.46" stroke="#000" stroke-width="3.1" fill="none"/>
<text class="r" font-size="12.69" transform="translate(595.85 2388.95) matrix(1 .0005 0 1.03 0 0)" x="-19.43" dx="0 2.05 1.02 2.05 2.05">0.008</text>
<text class="r" font-size="10.25" transform="translate(595.85 2377.01) matrix(1 .0005 0 1 0 0)" x="-4.65" dx="0 1.32">**</text>
<path d="M567.33 2365.81V2356.07H685.16V2365.81" stroke="#000" stroke-width="3.1" fill="none"/>
<text class="r" font-size="12.69" transform="translate(624.37 2348.17) matrix(1 .0005 0 1.03 0 0)" x="-19.38" dx="0 2.05 1.02 2.05 2.05">0.017</text>
<text class="r" font-size="10.25" transform="translate(624.37 2335.73) matrix(1 .0005 0 1 0 0)" x="-2" dx="0">*</text>
<path d="M625.62 2315.9V2305.64H684.41V2315.9" stroke="#000" stroke-width="3.1" fill="none"/>
<text class="r" font-size="12.69" transform="translate(653.89 2298.14) matrix(1 .0005 0 1.03 0 0)" x="-19.39" dx="0 2.05 1.02 2.05 2.05">0.361</text>
</g>
<g>
<rect x="1020.7" y="2226" width="54.6" height="32.6" fill="#808080"/>
<rect x="1020" y="2291.2" width="54.2" height="32.1" fill="#000"/>
<rect x="1022.5" y="2357.7" width="48.7" height="26.3" fill="#fff" stroke="#000" stroke-width="3.7"/>
<g class="r" font-size="34.3" letter-spacing="0.7">
<text transform="translate(1097.2 2254.1) matrix(1 .0003 0 1.03 0 0)">PDO pancreatitis (control)</text>
<text transform="translate(1097.2 2319.2) matrix(1 .0003 0 1.03 0 0)">PDO late recurrence</text>
<text transform="translate(1097.2 2382.8) matrix(1 .0003 0 1.03 0 0)">PDO early recurrence</text>
</g></g>
</svg>
</body>
</html>
